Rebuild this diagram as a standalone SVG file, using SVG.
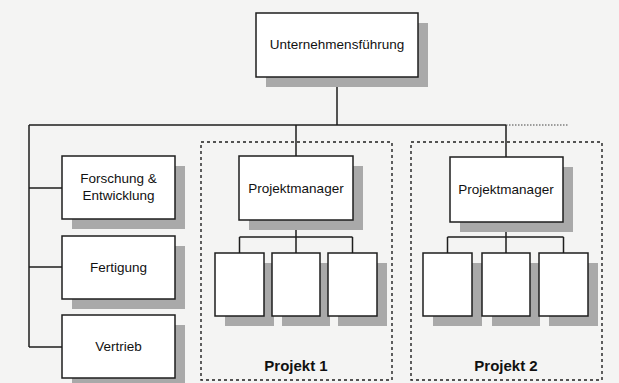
<svg xmlns="http://www.w3.org/2000/svg" width="619" height="383" viewBox="0 0 619 383">
  <style>
    .bg { fill: #f4f4f3; }
    .box { fill: #ffffff; stroke: #1e1e1e; stroke-width: 1.5; }
    .shadow { fill: #a9a9a9; }
    .line { fill: none; stroke: #1e1e1e; stroke-width: 1.5; }
    .dotted { fill: none; stroke: #444; stroke-width: 1.2; stroke-dasharray: 1.5 1.5; }
    .frame { fill: none; stroke: #1e1e1e; stroke-width: 1.4; stroke-dasharray: 3 3; }
    .label { font-family: "Liberation Sans", Arial, sans-serif; font-size: 13.5px; fill: #111; text-anchor: middle; }
    .title { font-family: "Liberation Sans", Arial, sans-serif; font-size: 15px; font-weight: bold; fill: #111; text-anchor: middle; }
  </style>

  <rect class="bg" x="0" y="0" width="619" height="383"/>

  <!-- project frames -->
  <g id="projekt1">
    <rect class="frame" x="201" y="142" width="191" height="238"/>
    <text class="title" x="296" y="371">Projekt 1</text>
  </g>
  <g id="projekt2">
    <rect class="frame" x="411" y="142" width="191" height="238"/>
    <text class="title" x="506" y="371">Projekt 2</text>
  </g>

  <!-- connectors -->
  <g id="connectors">
    <path class="line" d="M337 77 V125 M29 125 H506 M29 125 V347 M29 188 H62 M29 267 H62 M29 347 H62 M296 125 V156 M506 125 V157"/>
    <path class="dotted" d="M506 125 H569"/>
    <path class="line" d="M296 220 V237 M239.5 237 H352.5 M239.5 237 V253 M296 237 V253 M352.5 237 V253"/>
    <path class="line" d="M506 222 V237 M447.5 237 H563.5 M447.5 237 V253 M506 237 V253 M563.5 237 V253"/>
  </g>

  <!-- management -->
  <g id="unternehmensfuehrung">
    <rect class="shadow" x="266" y="23" width="162" height="64"/>
    <rect class="box" x="256" y="13" width="162" height="64"/>
    <text class="label" x="337" y="49">Unternehmensführung</text>
  </g>

  <!-- functional departments -->
  <g id="forschung">
    <rect class="shadow" x="72" y="166" width="113" height="63"/>
    <rect class="box" x="62" y="156" width="113" height="63"/>
    <text class="label" x="118.5" y="183">Forschung &amp;</text>
    <text class="label" x="118.5" y="200">Entwicklung</text>
  </g>
  <g id="fertigung">
    <rect class="shadow" x="72" y="246" width="113" height="63"/>
    <rect class="box" x="62" y="236" width="113" height="63"/>
    <text class="label" x="118.5" y="272">Fertigung</text>
  </g>
  <g id="vertrieb">
    <rect class="shadow" x="72" y="325" width="113" height="63"/>
    <rect class="box" x="62" y="315" width="113" height="63"/>
    <text class="label" x="118.5" y="351">Vertrieb</text>
  </g>

  <!-- project 1 -->
  <g id="pm1">
    <rect class="shadow" x="249" y="166" width="114" height="64"/>
    <rect class="box" x="239" y="156" width="114" height="64"/>
    <text class="label" x="296" y="193">Projektmanager</text>
  </g>
  <g id="p1-team1">
    <rect class="shadow" x="225" y="263" width="49" height="63"/>
    <rect class="box" x="215" y="253" width="49" height="63"/>
  </g>
  <g id="p1-team2">
    <rect class="shadow" x="282" y="263" width="48" height="63"/>
    <rect class="box" x="272" y="253" width="48" height="63"/>
  </g>
  <g id="p1-team3">
    <rect class="shadow" x="338" y="263" width="49" height="63"/>
    <rect class="box" x="328" y="253" width="49" height="63"/>
  </g>

  <!-- project 2 -->
  <g id="pm2">
    <rect class="shadow" x="460" y="167" width="113" height="65"/>
    <rect class="box" x="450" y="157" width="113" height="65"/>
    <text class="label" x="506" y="194">Projektmanager</text>
  </g>
  <g id="p2-team1">
    <rect class="shadow" x="433" y="263" width="49" height="63"/>
    <rect class="box" x="423" y="253" width="49" height="63"/>
  </g>
  <g id="p2-team2">
    <rect class="shadow" x="492" y="263" width="48" height="63"/>
    <rect class="box" x="482" y="253" width="48" height="63"/>
  </g>
  <g id="p2-team3">
    <rect class="shadow" x="549" y="263" width="49" height="63"/>
    <rect class="box" x="539" y="253" width="49" height="63"/>
  </g>
</svg>
